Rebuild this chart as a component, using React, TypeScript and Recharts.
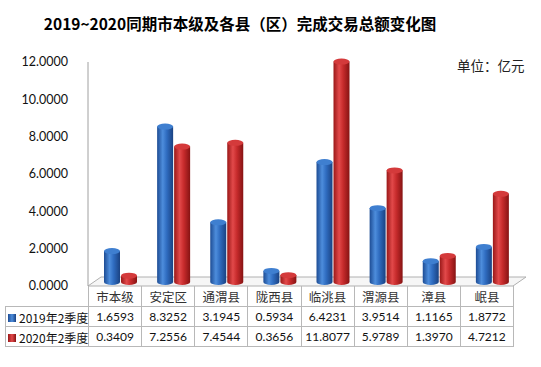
import { BarChart, Bar, XAxis, YAxis } from 'recharts';

const categories = ['市本级', '安定区', '通渭县', '陇西县', '临洮县', '渭源县', '漳县', '岷县'];
const q2019 = [1.6593, 8.3252, 3.1945, 0.5934, 6.4231, 3.9514, 1.1165, 1.8772];
const q2020 = [0.3409, 7.2556, 7.4544, 0.3656, 11.8077, 5.9789, 1.397, 4.7212];
const seriesNames = ['2019年2季度', '2020年2季度'];
const yTicks = [0, 2, 4, 6, 8, 10, 12];

const data = categories.map((name, i) => ({ name, a: q2019[i], b: q2020[i] }));

const numFont = 'Lato, "Noto Sans", sans-serif';
const cjkFont = '"Noto Sans CJK SC", sans-serif';

// plot area, front plane
const PL = 88;
const PR = 513;
const PT = 62;
const PB = 286;
const CH = 300;

function Cylinder(props: any) {
    const { x, y, width, height, grad, top } = props;
    if (height == null || height <= 0) return null;
    const rx = width / 2;
    const ry = 3;
    const b = y + height;
    return (
        <g transform="translate(6,-4)">
            <path
                d={`M${x},${y} L${x},${b} A${rx},${ry} 0 0 0 ${x + width},${b} L${x + width},${y} Z`}
                fill={`url(#${grad})`}
            />
            <ellipse cx={x + rx} cy={y} rx={rx} ry={ry} fill={top} />
        </g>
    );
}

const cell: React.CSSProperties = {
    border: '1px solid #b8b8b8',
    textAlign: 'center',
    padding: 0,
    fontFamily: numFont,
    fontSize: 12,
    color: '#111',
};

export default function App() {
    const colW = (PR - PL) / categories.length;
    return (
        <div style={{ position: 'absolute', left: 0, top: 0, width: 541, height: 367, background: '#fff' }}>
            <div style={{ position: 'absolute', left: 0, top: 12, width: 480, textAlign: 'center', fontFamily: cjkFont, fontWeight: 700, fontSize: 15.5, color: '#000' }}>
                2019~2020同期市本级及各县（区）完成交易总额变化图
            </div>
            <div style={{ position: 'absolute', left: 457, top: 55, fontFamily: cjkFont, fontSize: 13.5, color: '#222' }}>
                单位：亿元
            </div>
            {/* floor */}
            <svg width={541} height={300} style={{ position: 'absolute', left: 0, top: 0 }}>
                <polygon points={`${PL},${PB} ${PR},${PB} ${PR + 13},${PB - 9} ${PL + 13},${PB - 9}`} fill="#f6f6f6" stroke="#b0b0b0" strokeWidth={1} />
            </svg>
            <div style={{ position: 'absolute', left: 0, top: 0 }}>
                <BarChart
                    width={541}
                    height={CH}
                    data={data}
                    margin={{ top: PT, right: 541 - PR, bottom: CH - PB, left: 0 }}
                    barSize={16}
                    barGap={1}
                >
                    <defs>
                        <linearGradient id="gBlue" x1="0" y1="0" x2="1" y2="0">
                            <stop offset="0%" stopColor="#1d4c94" />
                            <stop offset="35%" stopColor="#4d8ddc" />
                            <stop offset="60%" stopColor="#2f6cc0" />
                            <stop offset="100%" stopColor="#1a4282" />
                        </linearGradient>
                        <linearGradient id="gRed" x1="0" y1="0" x2="1" y2="0">
                            <stop offset="0%" stopColor="#9a1818" />
                            <stop offset="35%" stopColor="#e2494a" />
                            <stop offset="60%" stopColor="#c72b2c" />
                            <stop offset="100%" stopColor="#861313" />
                        </linearGradient>
                    </defs>
                    <XAxis dataKey="name" hide />
                    <YAxis
                        width={PL}
                        domain={[0, 12]}
                        ticks={yTicks}
                        interval={0}
                        tickFormatter={(v: number) => v.toFixed(4)}
                        tickLine={false}
                        tickMargin={14}
                        axisLine={{ stroke: '#a0a0a0' }}
                        tick={{ fill: '#111', fontSize: 12.5, fontFamily: numFont }}
                    />
                    <Bar dataKey="a" name={seriesNames[0]} isAnimationActive={false} shape={(p: any) => <Cylinder {...p} grad="gBlue" top="#3f7fd0" />} />
                    <Bar dataKey="b" name={seriesNames[1]} isAnimationActive={false} shape={(p: any) => <Cylinder {...p} grad="gRed" top="#d43a3b" />} />
                </BarChart>
            </div>
            {/* data table */}
            <table style={{ position: 'absolute', left: 5, top: PB, borderCollapse: 'collapse', tableLayout: 'fixed', width: PR - 5 }}>
                <colgroup>
                    <col style={{ width: PL - 5 }} />
                    {categories.map((c) => <col key={c} style={{ width: colW }} />)}
                </colgroup>
                <tbody>
                    <tr style={{ height: 19 }}>
                        <td style={{ ...cell, borderTop: 'none', borderLeft: 'none' }} />
                        {categories.map((c) => (
                            <td key={c} style={{ ...cell, borderTop: 'none', fontFamily: cjkFont, fontSize: 12.5, color: '#333', paddingTop: 1 }}>{c}</td>
                        ))}
                    </tr>
                    {[q2019, q2020].map((row, r) => (
                        <tr key={r} style={{ height: 20 }}>
                            <td style={{ ...cell, textAlign: 'left', fontFamily: cjkFont, fontSize: 12, whiteSpace: 'nowrap' }}>
                                <span style={{ display: 'inline-block', width: 8, height: 8, margin: '0 3px 0 2px', verticalAlign: 'middle', backgroundImage: r === 0 ? 'linear-gradient(90deg,#1d4c94,#4d8ddc,#1a4282)' : 'linear-gradient(90deg,#9a1818,#e2494a,#861313)' }} />
                                <span style={{ verticalAlign: 'middle' }}>{seriesNames[r]}</span>
                            </td>
                            {row.map((v, i) => (
                                <td key={i} style={cell}>{v.toFixed(4)}</td>
                            ))}
                        </tr>
                    ))}
                </tbody>
            </table>
        </div>
    );
}
